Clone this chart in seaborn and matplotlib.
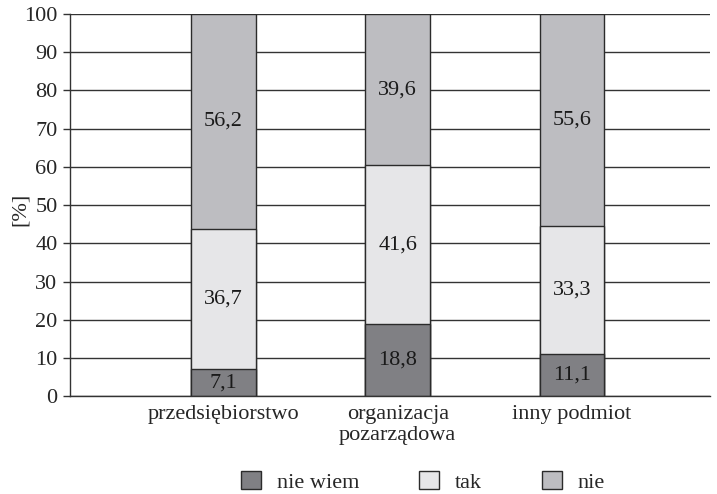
import numpy as np
import pandas as pd
import matplotlib
matplotlib.use("Agg")
import matplotlib.pyplot as plt
import seaborn as sns
from matplotlib.patches import Patch

categories = ["przedsiębiorstwo", "organizacja\npozarządowa", "inny podmiot"]
nie_wiem = [7.1, 18.8, 11.1]
tak = [36.7, 41.6, 33.3]
nie = [56.2, 39.6, 55.6]

series_names = ["nie wiem", "tak", "nie"]
colors = {"nie wiem": "#808084", "tak": "#e6e6e8", "nie": "#bdbdc1"}

df = pd.DataFrame({"cat": categories, "nie wiem": nie_wiem, "tak": tak, "nie": nie})

sns.set_style("white")
plt.rcParams["font.family"] = ["Liberation Serif", "DejaVu Serif"]
fs = 16

fig = plt.figure(figsize=(7.17, 4.94), dpi=100)
ax = fig.add_axes([0.0976, 0.198, 0.8924, 0.7737])

ax.set_axisbelow(True)
ax.yaxis.grid(True, color="#333333", linewidth=1.0)

# stacked: draw cumulative totals from the top layer down
cum = np.zeros(len(categories))
tops = {}
for s in series_names:
    tops[s] = cum + df[s].values
    cum = tops[s]

for s in reversed(series_names):
    sns.barplot(x=df["cat"], y=tops[s], color=colors[s], width=0.37,
                edgecolor="#2b2b2b", linewidth=1.0, ax=ax, saturation=1)

# value labels
for i in range(len(categories)):
    bottom = 0
    for s in series_names:
        v = df[s].values[i]
        ax.text(i, bottom + v / 2, f"{v:.1f}".replace(".", ","), ha="center", va="center",
                fontsize=fs, color="#1a1a1a")
        bottom += v

ax.set_xlim(-0.88, 2.79)
ax.set_ylim(0, 100)
ax.set_yticks(np.arange(0, 101, 10))
ax.tick_params(axis="y", labelsize=fs, length=5, width=1, color="#333333", left=True, pad=4)
ax.tick_params(axis="x", labelsize=fs, length=0, pad=6)
ax.set_xlabel("")
ax.set_ylabel("[%]", fontsize=fs)
ax.yaxis.set_label_coords(-0.062, 0.49)

for side in ["top", "right"]:
    ax.spines[side].set_visible(False)
for side in ["left", "bottom"]:
    ax.spines[side].set_color("#333333")
    ax.spines[side].set_linewidth(1.0)

handles = [Patch(facecolor=colors[s], edgecolor="#2b2b2b", linewidth=1.0, label=s) for s in series_names]
fig.legend(handles=handles, loc="center", bbox_to_anchor=(0.59, 0.025), ncol=3, frameon=False,
           fontsize=fs, handlelength=0.9, handleheight=0.9, columnspacing=2.7, handletextpad=0.7)

fig.savefig("out.png", dpi=100)
